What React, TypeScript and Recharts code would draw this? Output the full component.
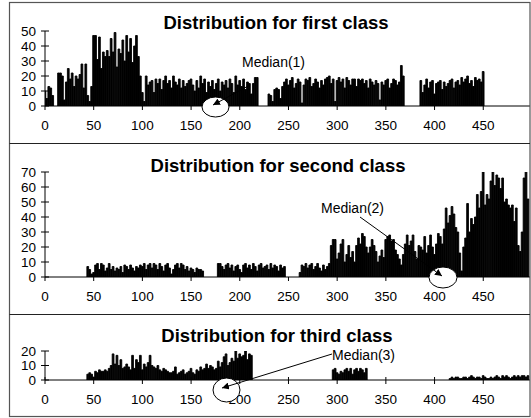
import React from 'react';
import { BarChart, Bar, XAxis, YAxis } from 'recharts';

const xTicks = [0, 50, 100, 150, 200, 250, 300, 350, 400, 450];
const yTicks1 = [0, 10, 20, 30, 40, 50];
const yTicks2 = [0, 10, 20, 30, 40, 50, 60, 70];
const yTicks3 = [0, 10, 20];

// each run of bars: first x value, then one height per step of 2
const c1aStart = 0;
const c1a = [10, 5, 13, 12, 7];
const c1bStart = 14;
const c1b = [22, 22, 20, 4, 16, 25, 18, 22, 13, 20, 18, 21, 28, 12, 28, 7, 3, 13, 47, 47, 31, 46, 25, 36, 33, 37, 33, 45, 36, 49, 26, 38, 35, 44, 30, 47, 36, 45, 29, 40, 47, 33, 20, 9, 3, 20, 14, 16, 17, 9, 18, 15, 18, 11, 17, 20, 15, 17, 12, 20, 16, 14, 18, 12, 17, 13, 15, 17, 18, 14, 10, 17, 12, 20, 15, 18, 9, 16, 13, 17, 11, 15, 18, 10, 16, 14, 17, 12, 18, 15, 9, 20, 14, 17, 13, 18, 11, 16, 15, 8, 15, 19, 19];
const c1cStart = 230;
const c1c = [8, 7, 3, 11, 12, 11, 5, 13, 16, 18, 14, 17, 19, 12, 15, 18, 16, 2, 14, 18, 17, 19, 13, 15, 18, 16, 12, 17, 14, 18, 19, 20, 15, 18, 3, 17, 19, 16, 18, 12, 19, 17, 14, 18, 18, 13, 18, 17, 18, 15, 17, 12, 18, 16, 14, 17, 15, 4, 16, 14, 17, 18, 12, 15, 18, 17, 14, 16, 27, 20];
const c1dStart = 386;
const c1d = [17, 9, 14, 18, 12, 16, 17, 8, 15, 16, 17, 11, 16, 13, 15, 17, 18, 12, 16, 17, 14, 19, 16, 18, 20, 15, 17, 13, 19, 17, 18, 16, 23];

const c2aStart = 44;
const c2a = [7, 5, 2, 3, 8, 9, 5, 9, 8, 4, 6, 9, 5, 7, 4, 6, 5, 7, 3, 8, 7, 5, 8, 6, 4, 7, 6, 8, 7, 9, 5, 8, 9, 6, 9, 8, 5, 9, 7, 4, 8, 9, 6, 2, 5, 8, 9, 6, 9, 8, 5, 7, 4, 6, 5, 3, 6, 5, 5, 4];
const c2bStart = 178;
const c2b = [9, 9, 7, 5, 8, 9, 6, 8, 4, 7, 8, 5, 3, 8, 9, 6, 8, 5, 9, 7, 4, 8, 9, 6, 7, 8, 5, 9, 6, 8, 7, 4, 8, 6, 7];
const c2cStart = 262;
const c2c = [3, 8, 7, 9, 6, 8, 9, 5, 7, 9, 6, 4, 8, 5, 7, 9];
const c2dStart = 294;
const c2d = [21, 25, 25, 12, 16, 22, 25, 10, 15, 21, 13, 17, 10, 21, 26, 22, 29, 27, 20, 16, 20, 25, 21, 17, 10, 14, 18, 13, 25, 27, 28, 24, 25, 18, 15, 12, 8, 15, 22, 28, 21, 24, 28, 17, 12, 21, 20, 18, 27, 16, 21, 28, 20, 15, 22, 29, 27, 22, 32, 46, 36, 41, 47, 42, 33, 30, 16, 4, 20, 26, 49, 30, 39, 35, 40, 55, 46, 57, 70, 48, 55, 52, 64, 75, 61, 68, 66, 59, 66, 50, 52, 48, 46, 48, 37, 46, 21, 17, 30, 66, 75, 52];

const c3aStart = 44;
const c3a = [4, 5, 4, 2, 6, 5, 7, 6, 6, 7, 6, 8, 10, 18, 11, 17, 10, 14, 8, 9, 11, 9, 7, 17, 8, 14, 12, 17, 7, 11, 9, 12, 17, 10, 9, 8, 10, 7, 6, 8, 7, 6, 5, 5, 6, 9, 4, 5, 6, 7, 4, 5, 6, 8, 5, 4, 7, 6, 9, 7, 8, 11, 8, 10, 9, 7, 8, 13, 9, 12, 16, 18, 10, 12, 15, 13, 20, 15, 18, 16, 17, 20, 14, 18, 17];
const c3bStart = 296;
const c3b = [7, 8, 5, 4, 6, 5, 7, 8, 6, 8, 4, 7, 8, 6, 8, 7, 5, 8];
const c3cStart = 416;
const c3c = [1, 2, 1, 2, 2, 1, 1, 2, 2, 1, 2, 3, 2, 1, 2, 2, 1, 3, 2, 1, 1, 2, 1, 2, 3, 2, 1, 3, 2, 3, 2, 1, 2, 3, 2, 3, 2, 3, 3, 2, 3];

const rows = (start: number, vals: number[]) => vals.map((v, i) => ({ x: start + i * 2, y: v }));

const class1 = [...rows(c1aStart, c1a), ...rows(c1bStart, c1b), ...rows(c1cStart, c1c), ...rows(c1dStart, c1d)];
const class2 = [...rows(c2aStart, c2a), ...rows(c2bStart, c2b), ...rows(c2cStart, c2c), ...rows(c2dStart, c2d)];
const class3 = [...rows(c3aStart, c3a), ...rows(c3bStart, c3b), ...rows(c3cStart, c3c)];

const font = "'Liberation Sans', Arial, sans-serif";

const YTick = (p: any) => (
  <g>
    <line x1={p.x - 4} x2={p.x + 4} y1={p.y} y2={p.y} stroke="#000" />
    <text x={p.x - 9} y={p.y + 4.8} textAnchor="end" fontSize={13.5} fontFamily={font} fill="#000">
      {p.payload.value}
    </text>
  </g>
);

const makeXTick = (cross: boolean) => (p: any) => (
  <g>
    <line x1={p.x} x2={p.x} y1={cross ? p.y - 3 : p.y} y2={p.y + 4} stroke="#000" />
    <text x={p.x} y={p.y + 23.5} textAnchor="middle" fontSize={13.5} fontFamily={font} fill="#000">
      {p.payload.value}
    </text>
  </g>
);

function Panel({ top, height, data, yMax, yTicks, plotTop, plotBottom, cross }: any) {
  return (
    <div style={{ position: 'absolute', left: 0, top, width: 531, height }}>
      <BarChart
        width={531}
        height={height}
        data={data}
        margin={{ top: plotTop, right: 1, bottom: 0, left: 0 }}
        barCategoryGap={0}
        barGap={0}
      >
        <XAxis
          dataKey="x"
          type="number"
          domain={[0, 498]}
          ticks={xTicks}
          interval={0}
          height={height - plotBottom}
          tickSize={0}
          tickMargin={0}
          tickLine={false}
          axisLine={{ stroke: '#000' }}
          tick={makeXTick(cross)}
          allowDataOverflow
        />
        <YAxis
          type="number"
          domain={[0, yMax]}
          ticks={yTicks}
          interval={0}
          width={45}
          tickSize={0}
          tickMargin={0}
          tickLine={false}
          axisLine={{ stroke: '#000' }}
          tick={YTick}
          allowDataOverflow
        />
        <Bar dataKey="y" fill="#000" stroke="#000" strokeWidth={0.9} barSize={2} isAnimationActive={false} />
      </BarChart>
    </div>
  );
}

export default function App() {
  return (
    <div style={{ position: 'fixed', left: 0, top: 0, width: 531, height: 418, background: '#fff', fontFamily: font }}>
      <Panel top={0} height={143} data={class1} yMax={50} yTicks={yTicks1} plotTop={31} plotBottom={106} cross={false} />
      <Panel top={143} height={171} data={class2} yMax={70} yTicks={yTicks2} plotTop={29} plotBottom={134} cross={false} />
      <Panel top={314} height={104} data={class3} yMax={20} yTicks={yTicks3} plotTop={37} plotBottom={66} cross={true} />
      <svg width={531} height={418} style={{ position: 'absolute', left: 0, top: 0, pointerEvents: 'none' }}>
        <defs>
          <marker id="head" viewBox="0 0 10 10" refX="10" refY="5" markerWidth="7" markerHeight="7" orient="auto-start-reverse" markerUnits="userSpaceOnUse">
            <path d="M0,0 L10,5 L0,10 z" fill="#000" />
          </marker>
        </defs>
        {/* frame */}
        <rect x={9.5} y={2.5} width={520.5} height={414} fill="none" stroke="#555" strokeWidth={1.2} />
        <line x1={9.5} x2={530} y1={143.5} y2={143.5} stroke="#222" />
        <line x1={9.5} x2={530} y1={314.5} y2={314.5} stroke="#222" />

        {/* titles */}
        <text x={276} y={29} textAnchor="middle" fontSize={18.5} fontWeight="bold" fontFamily={font} fill="#000">Distribution for first class</text>
        <text x={278} y={171.5} textAnchor="middle" fontSize={18.5} fontWeight="bold" fontFamily={font} fill="#000">Distribution for second class</text>
        <text x={277} y={342} textAnchor="middle" fontSize={18.5} fontWeight="bold" fontFamily={font} fill="#000">Distribution for third class</text>

        {/* median 1 */}
        <ellipse cx={215.5} cy={107} rx={13.5} ry={10} fill="#fff" stroke="#000" />
        <line x1={250} y1={85} x2={213} y2={105} stroke="#000" markerEnd="url(#head)" />
        <text x={242} y={67} fontSize={14} fontFamily={font} fill="#000">Median(1)</text>

        {/* median 2 */}
        <ellipse cx={443} cy={277.5} rx={14} ry={10.5} fill="#fff" stroke="#000" />
        <line x1={360} y1={217} x2={442} y2={276} stroke="#000" markerEnd="url(#head)" />
        <text x={321} y={213} fontSize={14} fontFamily={font} fill="#000">Median(2)</text>

        {/* median 3 */}
        <ellipse cx={226.5} cy={390} rx={13.5} ry={12} fill="#fff" stroke="#000" />
        <line x1={332} y1={354} x2={222} y2={388} stroke="#000" markerEnd="url(#head)" />
        <text x={332} y={360} fontSize={14} fontFamily={font} fill="#000">Median(3)</text>
      </svg>
    </div>
  );
}
